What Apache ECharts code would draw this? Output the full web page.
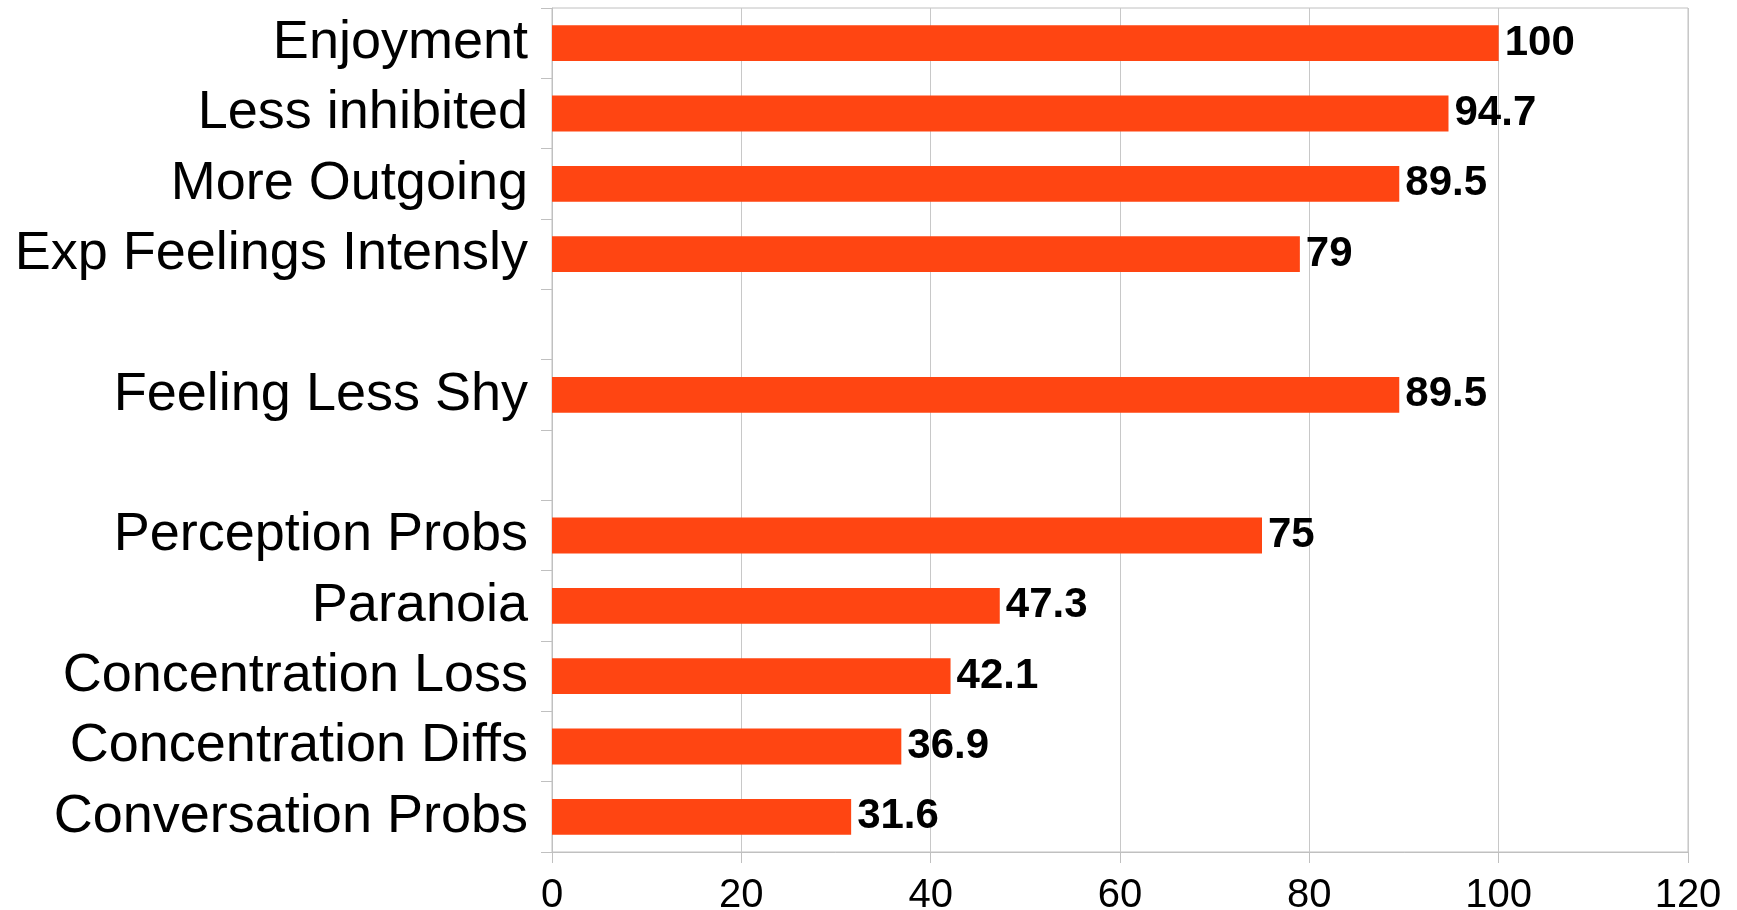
<!DOCTYPE html>
<html>
<head>
<meta charset="utf-8">
<script src="https://cdn.jsdelivr.net/npm/echarts@6/dist/echarts.min.js"></script>
<style>html,body{margin:0;padding:0;background:#fff}#c{width:1737px;height:910px}</style>
</head>
<body>
<div id="c"></div>
<script>
var categories = ['Enjoyment', 'Less inhibited', 'More Outgoing', 'Exp Feelings Intensly', '', 'Feeling Less Shy', ' ', 'Perception Probs', 'Paranoia', 'Concentration Loss', 'Concentration Diffs', 'Conversation Probs'];
var values = [100, 94.7, 89.5, 79, null, 89.5, null, 75, 47.3, 42.1, 36.9, 31.6];
var xTicks = { min: 0, max: 120, interval: 20 };

var chart = echarts.init(document.getElementById('c'));
chart.setOption({
  animation: false,
  grid: { left: 552, right: 49, top: 8, bottom: 58, outerBoundsMode: 'none', containLabel: false, show: true, borderColor: '#c0c0c0', borderWidth: 1 },
  xAxis: {
    type: 'value', min: xTicks.min, max: xTicks.max, interval: xTicks.interval,
    axisLine: { show: true, lineStyle: { color: '#c0c0c0', width: 1 } },
    axisTick: { show: true, length: 11, lineStyle: { color: '#c0c0c0' } },
    splitLine: { show: true, lineStyle: { color: '#c8c8c8', width: 1 } },
    axisLabel: { fontFamily: 'Liberation Sans', fontSize: 40, color: '#000', margin: 24 }
  },
  yAxis: {
    type: 'category', data: categories, inverse: true,
    axisLine: { show: true, lineStyle: { color: '#c0c0c0', width: 1 } },
    axisTick: { show: true, length: 11, interval: 0, lineStyle: { color: '#c0c0c0' } },
    axisLabel: { interval: 0, hideOverlap: false, fontFamily: 'Liberation Sans', fontSize: 54, color: '#000', margin: 24, padding: [10, 0, 0, 0] }
  },
  series: [{
    type: 'bar', data: values, barWidth: '51%',
    itemStyle: { color: '#ff4512' },
    label: {
      show: true, position: 'right', distance: 6,
      fontFamily: 'Liberation Sans', fontWeight: 'bold', fontSize: 42, color: '#000',
      formatter: function (p) { return p.value == null ? '' : String(p.value); }
    }
  }]
});
</script>
</body>
</html>
